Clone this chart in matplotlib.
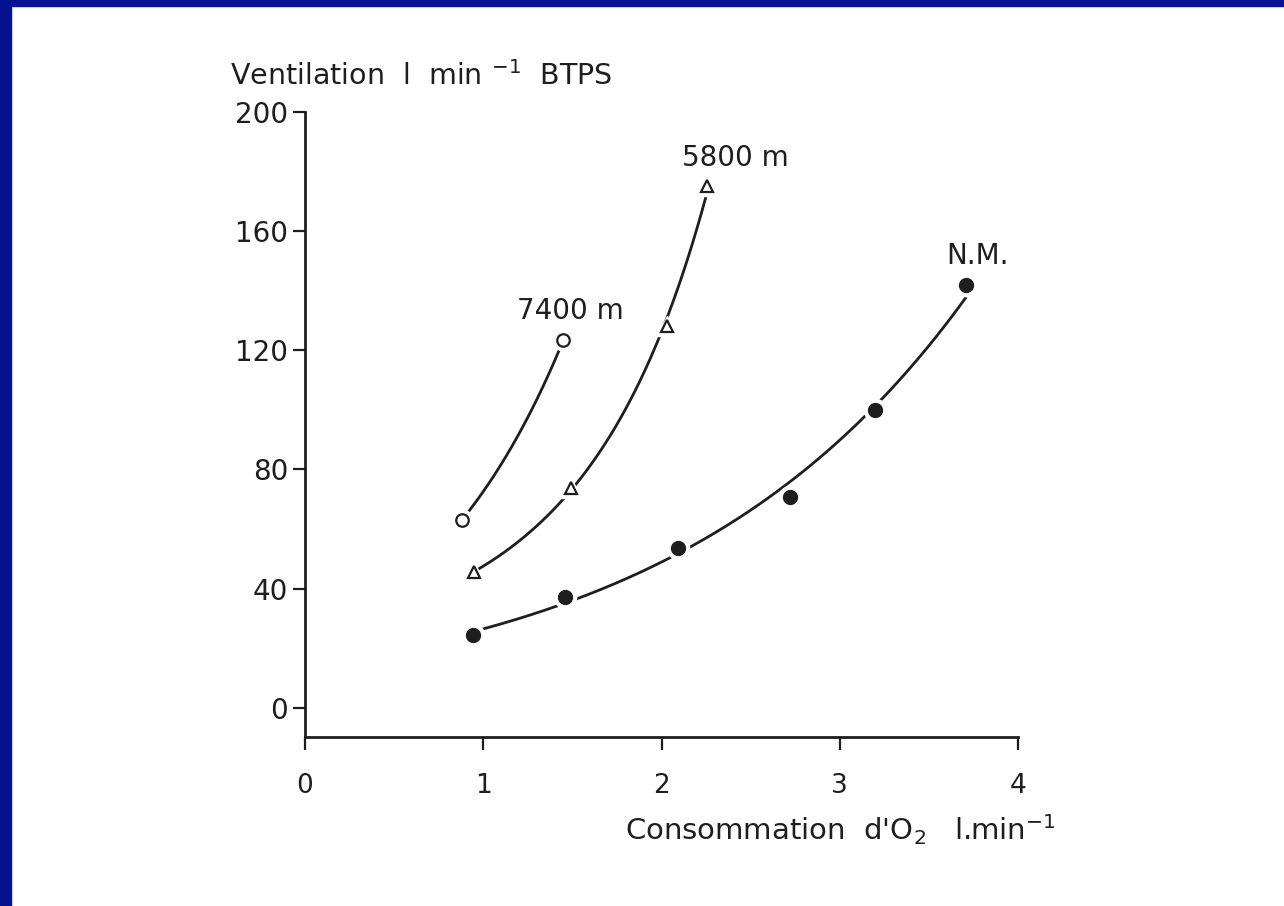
import matplotlib
matplotlib.use("Agg")
import matplotlib.pyplot as plt
import numpy as np

# VO2 (l/min) vs ventilation (l/min BTPS) at three altitudes
x_7400 = [0.88, 1.45]
y_7400 = [63, 123.5]

x_5800 = [0.95, 1.49, 2.03, 2.255]
y_5800 = [45.6, 73.8, 128, 175]

x_nm = [0.94, 1.46, 2.09, 2.72, 3.20, 3.71]
y_nm = [24.5, 37.2, 53.7, 70.8, 100, 142]

labels = ["7400 m", "5800 m", "N.M."]
x_ticks = [0, 1, 2, 3, 4]
y_ticks = [0, 40, 80, 120, 160, 200]

ink = "#1e1e1e"
navy = "#06128f"

plt.rcParams['font.family'] = ['DejaVu Sans']

fig = plt.figure(figsize=(12.84, 9.06), dpi=100)
fig.patch.set_facecolor("white")

# blue frame on the top and left edges
fig.add_artist(plt.Rectangle((0, 0), 11 / 1284, 1, transform=fig.transFigure,
                             color=navy, zorder=0))
fig.add_artist(plt.Rectangle((0, 1 - 6 / 906), 1, 6 / 906, transform=fig.transFigure,
                             color=navy, zorder=0))

ax = fig.add_axes([305 / 1284, 169 / 906, (1018 - 305) / 1284, (737 - 112) / 906])
ax.set_xlim(0, 4)
ax.set_ylim(-9.8, 200)
ax.patch.set_alpha(0)


def fit_curve(xs, ys):
    # smooth curve through the points: polynomial fit in log space
    xs = np.asarray(xs)
    ys = np.asarray(ys)
    deg = min(2, len(xs) - 1)
    coef = np.polyfit(xs, np.log(ys), deg)
    xx = np.linspace(xs.min(), xs.max(), 200)
    return xx, np.exp(np.polyval(coef, xx))


series = [
    (x_7400, y_7400, dict(marker="o", ms=9, mfc="white", mec=ink, mew=1.6)),
    (x_5800, y_5800, dict(marker="^", ms=8, mfc="white", mec=ink, mew=1.6)),
    (x_nm, y_nm, dict(marker="o", ms=10, mfc=ink, mec=ink, mew=1)),
]

for xs, ys, style in series:
    xx, yy = fit_curve(xs, ys)
    ax.plot(xx, yy, color=ink, lw=2.0, zorder=2, solid_capstyle="butt")
    # white halo leaves a small gap between the curve and each symbol
    ax.plot(xs, ys, ls="none", marker=style["marker"], ms=style["ms"] + 6,
            mfc="white", mec="white", zorder=3)
    ax.plot(xs, ys, ls="none", zorder=4, **style)

ax.text(x_7400[-1] + 0.04, y_7400[-1] + 5, labels[0], fontsize=20, color=ink,
        ha="center", va="bottom")
ax.text(x_5800[-1] + 0.16, y_5800[-1] + 5, labels[1], fontsize=20, color=ink,
        ha="center", va="bottom")
ax.text(x_nm[-1] + 0.06, y_nm[-1] + 5, labels[2], fontsize=20, color=ink,
        ha="center", va="bottom")

for side in ["top", "right"]:
    ax.spines[side].set_visible(False)
for side in ["left", "bottom"]:
    ax.spines[side].set_linewidth(2.0)
    ax.spines[side].set_color(ink)
ax.spines["left"].set_bounds(-9.8, 200)

ax.set_xticks(x_ticks)
ax.set_yticks(y_ticks)
ax.tick_params(axis="x", direction="out", length=9, width=1.6, pad=17,
               labelsize=19, colors=ink)
ax.tick_params(axis="y", direction="out", length=9, width=1.6, pad=3,
               labelsize=20, colors=ink)

fig.text(230 / 1284, 1 - 76 / 906, r"Ventilation  l  min $^{-1}$  BTPS", fontsize=20.5,
         color=ink, ha="left", va="center")
fig.text(625 / 1284, 1 - 830 / 906, r"Consommation  d'O$_2$   l.min$^{-1}$", fontsize=21,
         color=ink, ha="left", va="center")

fig.savefig("out.png", dpi=100, facecolor="white")
